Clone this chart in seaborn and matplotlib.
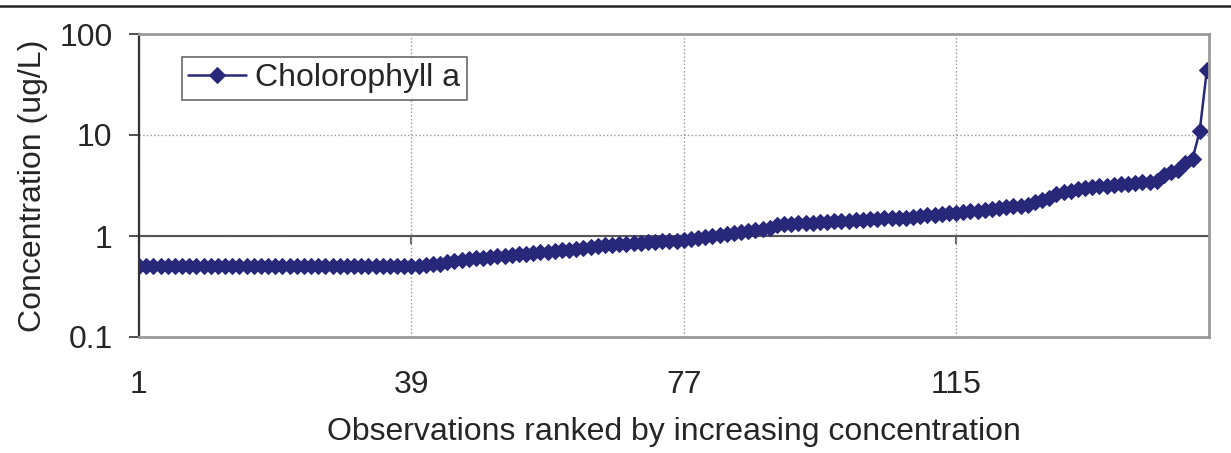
import numpy as np
import pandas as pd
import matplotlib
matplotlib.use("Agg")
from matplotlib import pyplot as plt
from matplotlib.lines import Line2D
from matplotlib.ticker import FixedLocator, FuncFormatter, NullLocator
import seaborn as sns

# 数据: 按浓度排序的观测值 (ug/L)
conc = [
    0.5, 0.5, 0.5, 0.5, 0.5, 0.5, 0.5, 0.5, 0.5, 0.5,
    0.5, 0.5, 0.5, 0.5, 0.5, 0.5, 0.5, 0.5, 0.5, 0.5,
    0.5, 0.5, 0.5, 0.5, 0.5, 0.5, 0.5, 0.5, 0.5, 0.5,
    0.5, 0.5, 0.5, 0.5, 0.5, 0.5, 0.5, 0.5, 0.5, 0.5,
    0.52, 0.53, 0.53, 0.55, 0.57, 0.58, 0.59, 0.6, 0.61, 0.62,
    0.63, 0.64, 0.65, 0.66, 0.67, 0.68, 0.69, 0.7, 0.71, 0.72,
    0.73, 0.75, 0.76, 0.78, 0.8, 0.81, 0.82, 0.83, 0.84, 0.85,
    0.86, 0.87, 0.88, 0.89, 0.9, 0.9, 0.91, 0.93, 0.95, 0.97,
    1.0, 1.02, 1.05, 1.08, 1.1, 1.12, 1.15, 1.18, 1.2, 1.28,
    1.3, 1.32, 1.33, 1.35, 1.36, 1.37, 1.38, 1.4, 1.41, 1.42,
    1.44, 1.45, 1.46, 1.48, 1.5, 1.5, 1.51, 1.52, 1.55, 1.57,
    1.6, 1.62, 1.65, 1.68, 1.7, 1.72, 1.75, 1.78, 1.8, 1.85,
    1.9, 1.95, 2.0, 2.0, 2.05, 2.15, 2.25, 2.4, 2.6, 2.7,
    2.8, 2.9, 3.0, 3.05, 3.1, 3.15, 3.2, 3.25, 3.3, 3.35,
    3.4, 3.45, 3.5, 4.0, 4.3, 4.5, 5.3, 5.8, 10.9, 44.0,
]
obs = list(range(1, len(conc) + 1))
x_ticks = [1, 39, 77, 115]
y_ticks = [0.1, 1, 10, 100]
series_name = "Cholorophyll a"

df = pd.DataFrame({"obs": obs, "conc": conc, "series": series_name})

sns.set_style("white")
plt.rcParams["font.family"] = ["Liberation Sans", "DejaVu Sans"]
fs = 23

navy = "#28287a"

fig = plt.figure(figsize=(12.31, 4.53), dpi=100)
ax = fig.add_axes([139 / 1231, 1 - 337 / 453, 1070 / 1231, 303 / 453])

sns.lineplot(data=df, x="obs", y="conc", hue="series", palette=[navy],
             marker="D", markersize=8.5, markeredgecolor=navy, linewidth=1.8,
             ax=ax)

ax.set_yscale("log")
ax.set_ylim(0.1, 100)
ax.set_xlim(1, 150.3)

ax.yaxis.set_major_locator(FixedLocator(y_ticks))
ax.yaxis.set_minor_locator(NullLocator())
ax.yaxis.set_major_formatter(FuncFormatter(lambda v, p: f"{v:g}"))
ax.xaxis.set_major_locator(FixedLocator(x_ticks))

ax.tick_params(axis="y", direction="out", length=7, width=1.2, color="#333333",
               pad=12, labelsize=fs, left=True)
ax.tick_params(axis="x", length=0, pad=24, labelsize=fs)

# 网格
ax.grid(True, which="major", linestyle=":", color="#999999", linewidth=1)
ax.set_axisbelow(True)

# 边框
for side in ["top", "right", "bottom"]:
    ax.spines[side].set_color("#9a9a9a")
    ax.spines[side].set_linewidth(2)
ax.spines["left"].set_color("#333333")
ax.spines["left"].set_linewidth(1.6)

# 在 y=1 处的横轴
ax.axhline(1, color="#555555", linewidth=1.5, zorder=1.5)
sec = ax.secondary_xaxis(1 / 3)
sec.set_xticks(x_ticks)
sec.set_xticklabels([])
sec.tick_params(direction="out", length=6, width=1.5, color="#666666")
sec.spines["bottom"].set_visible(False)

ax.set_xlabel("Observations ranked by increasing concentration", fontsize=fs,
              labelpad=12)
ax.set_ylabel("Concentration (ug/L)", fontsize=fs, labelpad=8)

leg = ax.legend(loc="upper left", bbox_to_anchor=(0.04, 0.925), frameon=True,
                fancybox=False, edgecolor="#444444", fontsize=fs,
                handlelength=1.8, handletextpad=0.3, borderpad=0.2,
                borderaxespad=0)
leg.get_frame().set_linewidth(1.2)

# 顶部横线
fig.add_artist(Line2D([0, 1], [1 - 6 / 453, 1 - 6 / 453], color="#222222",
                      linewidth=1.8))

plt.savefig("out.png", dpi=100)
